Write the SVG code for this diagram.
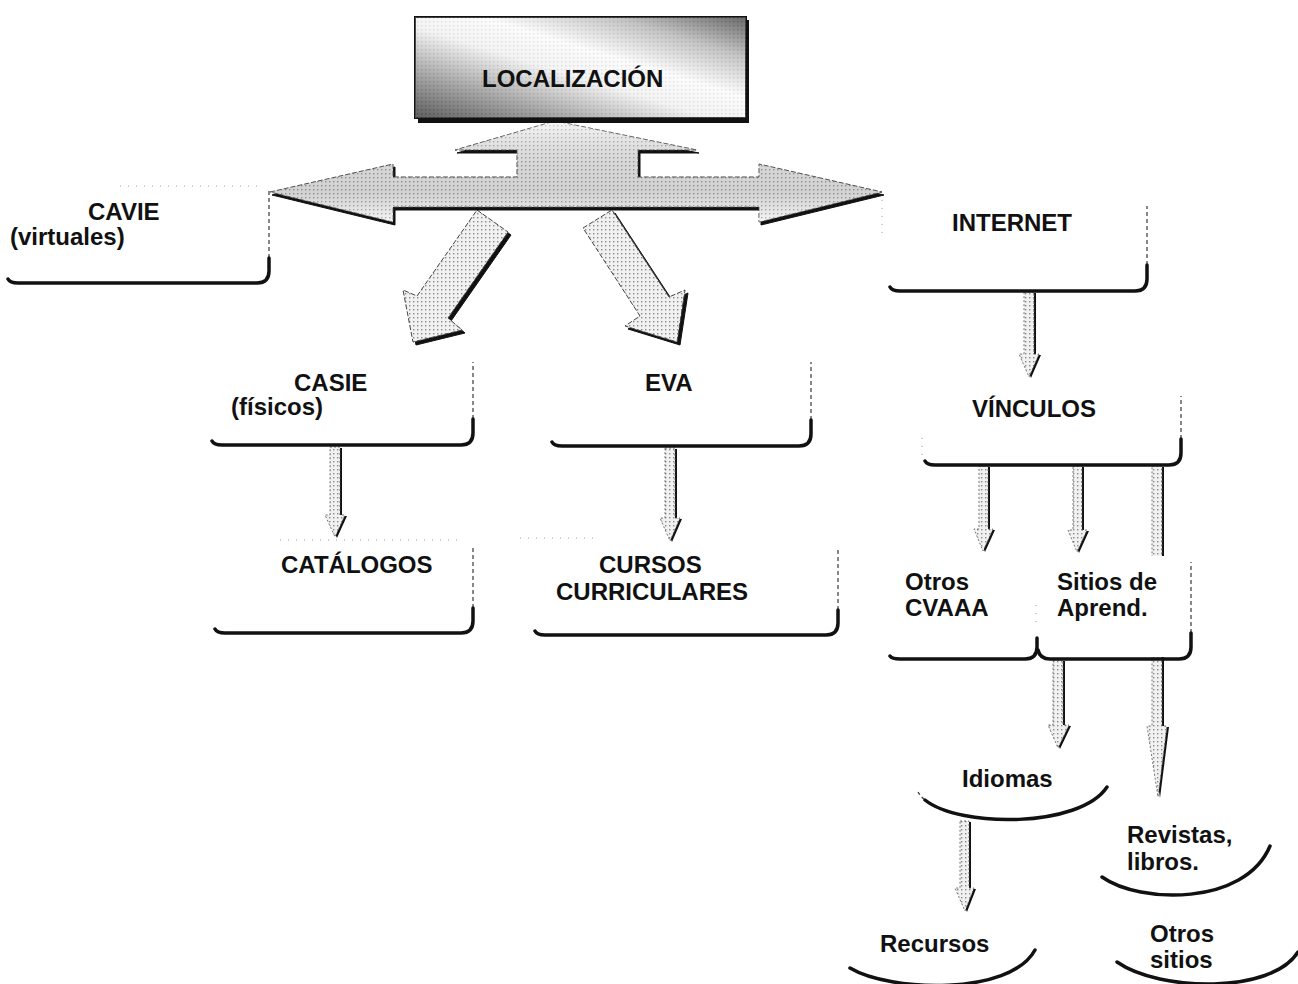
<svg xmlns="http://www.w3.org/2000/svg" width="1298" height="984" viewBox="0 0 1298 984">
  <defs>
    <style>
      .lbl { font-family: "Liberation Sans", Arial, sans-serif; font-weight: bold; font-size: 24px; fill: #111; }
      .edge { fill: none; stroke: #111; stroke-width: 3.5; stroke-linecap: round; stroke-linejoin: round; }
      .side { fill: none; stroke: #555; stroke-width: 1.4; stroke-dasharray: 4 3; }
      .faint { fill: none; stroke: #999; stroke-width: 1; stroke-dasharray: 1 7; }
      .curve { fill: none; stroke: #111; stroke-width: 3.5; stroke-linecap: round; }
      .curve-thin { fill: none; stroke: #333; stroke-width: 1.2; stroke-dasharray: 3 3; }
      .shadow { fill: #111; stroke: #111; stroke-width: 1; }
      .block { fill: url(#stipple); stroke: #444; stroke-width: 1; stroke-dasharray: 5 2; }
      .vshadow { fill: #111; }
      .vblock { fill: url(#stipple); stroke: #555; stroke-width: 0.8; stroke-dasharray: 2 2; }
    </style>
    <pattern id="stipple" width="4" height="4" patternUnits="userSpaceOnUse">
      <rect width="4" height="4" fill="#f1f1f1"/>
      <rect x="1" y="1" width="1.4" height="1.4" fill="#8a8a8a"/>
    </pattern>
    <linearGradient id="band" x1="0" y1="0" x2="0" y2="1">
      <stop offset="0" stop-color="#ffffff" stop-opacity="0.55"/>
      <stop offset="0.45" stop-color="#9a9a9a" stop-opacity="0.3"/>
      <stop offset="0.7" stop-color="#8a8a8a" stop-opacity="0.3"/>
      <stop offset="1" stop-color="#ffffff" stop-opacity="0.4"/>
    </linearGradient>
    <linearGradient id="topfill" x1="0" y1="1" x2="1" y2="0">
      <stop offset="0" stop-color="#2e2e2e"/>
      <stop offset="0.22" stop-color="#8c8c8c"/>
      <stop offset="0.45" stop-color="#f4f4f4"/>
      <stop offset="0.6" stop-color="#ffffff"/>
      <stop offset="0.8" stop-color="#b5b5b5"/>
      <stop offset="1" stop-color="#3c3c3c"/>
    </linearGradient>
  </defs>

  <rect width="1298" height="984" fill="#ffffff"/>

  <!-- connectors (drawn first so filled nodes can sit on top) -->
  <g id="connectors">
    <!-- diagonal block arrows -->
    <polygon class="shadow" transform="translate(3,3)" points="477,210 508,232 448,318 462,330 413,342 403,290 417,296"/>
    <polygon class="block" points="477,210 508,232 448,318 462,330 413,342 403,290 417,296"/>
    <polygon class="shadow" transform="translate(3,3)" points="583,228 612,210 669,297 685,290 677,342 625,326 640,316"/>
    <polygon class="block" points="583,228 612,210 669,297 685,290 677,342 625,326 640,316"/>

    <!-- double-headed arrow with upward branch -->
    <polygon class="shadow" transform="translate(2,3)" points="270,192 393,164 393,177 517,177 517,150 455,150 555,121 697,150 638,150 638,177 759,177 759,164 882,192 759,222 759,207 393,207 393,222"/>
    <polygon class="block" points="270,192 393,164 393,177 517,177 517,150 455,150 555,121 697,150 638,150 638,177 759,177 759,164 882,192 759,222 759,207 393,207 393,222"/>
    <polygon fill="url(#band)" points="270,192 393,164 393,177 517,177 517,150 455,150 555,121 697,150 638,150 638,177 759,177 759,164 882,192 759,222 759,207 393,207 393,222"/>

    <!-- vertical arrows -->
    <g id="arrow-casie-catalogos">
      <polygon class="vshadow" transform="translate(2,1)" points="330,447 340,447 340,515 345,515 335,537 325,515 330,515"/>
      <polygon class="vblock" points="330,447 340,447 340,515 345,515 335,537 325,515 330,515"/>
    </g>
    <g id="arrow-eva-cursos">
      <polygon class="vshadow" transform="translate(2,1)" points="665,448 675,448 675,518 680,518 670,541 660,518 665,518"/>
      <polygon class="vblock" points="665,448 675,448 675,518 680,518 670,541 660,518 665,518"/>
    </g>
    <g id="arrow-internet-vinculos">
      <polygon class="vshadow" transform="translate(2,1)" points="1024,292 1034,292 1034,354 1039,354 1029,377 1019,354 1024,354"/>
      <polygon class="vblock" points="1024,292 1034,292 1034,354 1039,354 1029,377 1019,354 1024,354"/>
    </g>
    <g id="arrow-vinculos-otros">
      <polygon class="vshadow" transform="translate(2,1)" points="979,466 988,466 988,529 993,529 983,551 974,529 979,529"/>
      <polygon class="vblock" points="979,466 988,466 988,529 993,529 983,551 974,529 979,529"/>
    </g>
    <g id="arrow-vinculos-sitios">
      <polygon class="vshadow" transform="translate(2,1)" points="1073,466 1082,466 1082,530 1087,530 1077,552 1068,530 1073,530"/>
      <polygon class="vblock" points="1073,466 1082,466 1082,530 1087,530 1077,552 1068,530 1073,530"/>
    </g>
    <g id="arrow-vinculos-revistas">
      <polygon class="vshadow" transform="translate(2,1)" points="1152,466 1162,466 1162,726 1167,726 1158,797 1147,726 1152,726"/>
      <polygon class="vblock" points="1152,466 1162,466 1162,726 1167,726 1158,797 1147,726 1152,726"/>
    </g>
    <g id="arrow-sitios-idiomas">
      <polygon class="vshadow" transform="translate(2,1)" points="1053,660 1063,660 1063,725 1069,725 1058,748 1048,725 1053,725"/>
      <polygon class="vblock" points="1053,660 1063,660 1063,725 1069,725 1058,748 1048,725 1053,725"/>
    </g>
    <g id="arrow-idiomas-recursos">
      <polygon class="vshadow" transform="translate(2,1)" points="960,821 969,821 969,888 974,888 965,911 955,888 960,888"/>
      <polygon class="vblock" points="960,821 969,821 969,888 974,888 965,911 955,888 960,888"/>
    </g>
  </g>

  <!-- top node -->
  <g id="node-localizacion">
    <rect x="418" y="20" width="331" height="103" fill="#111"/>
    <rect x="415" y="17" width="331" height="101" fill="url(#topfill)" stroke="#111" stroke-width="2"/>
    <rect x="415" y="17" width="331" height="101" fill="url(#stipple)" opacity="0.25"/>
    <text class="lbl" x="482" y="87">LOCALIZACIÓN</text>
  </g>

  <g id="node-cavie">
    <path class="faint" d="M 120,186 L 262,186"/>
    <path class="side" d="M 269,258 L 269,188"/>
    <path class="edge" d="M 8,279 Q 10,283 18,283 L 257,283 Q 269,283 269,271 L 269,258"/>
    <text class="lbl" x="88" y="220">CAVIE</text>
    <text class="lbl" x="10" y="245">(virtuales)</text>
  </g>

  <g id="node-casie">
    <path class="side" d="M 473,419 L 473,362"/>
    <path class="edge" d="M 212,441 Q 214,445 222,445 L 461,445 Q 473,445 473,433 L 473,419"/>
    <text class="lbl" x="294" y="391">CASIE</text>
    <text class="lbl" x="231" y="415">(físicos)</text>
  </g>

  <g id="node-eva">
    <path class="side" d="M 811,420 L 811,362"/>
    <path class="edge" d="M 552,442 Q 554,446 562,446 L 799,446 Q 811,446 811,434 L 811,420"/>
    <text class="lbl" x="645" y="391">EVA</text>
  </g>

  <g id="node-catalogos">
    <path class="faint" d="M 280,540 L 462,540"/>
    <path class="side" d="M 473,608 L 473,546"/>
    <path class="edge" d="M 215,629 Q 217,633 225,633 L 461,633 Q 473,633 473,621 L 473,608"/>
    <text class="lbl" x="281" y="573">CATÁLOGOS</text>
  </g>

  <g id="node-cursos">
    <path class="faint" d="M 520,538 L 600,538"/>
    <path class="side" d="M 838,610 L 838,548"/>
    <path class="edge" d="M 535,631 Q 537,635 545,635 L 826,635 Q 838,635 838,623 L 838,610"/>
    <text class="lbl" x="599" y="573">CURSOS</text>
    <text class="lbl" x="556" y="600">CURRICULARES</text>
  </g>

  <g id="node-internet">
    <path class="faint" d="M 882,200 L 882,236"/>
    <path class="side" d="M 1147,265 L 1147,206"/>
    <path class="edge" d="M 890,287 Q 892,291 900,291 L 1135,291 Q 1147,291 1147,279 L 1147,265"/>
    <text class="lbl" x="952" y="231">INTERNET</text>
  </g>

  <g id="node-vinculos">
    <path class="faint" d="M 922,438 L 922,458"/>
    <path class="side" d="M 1181,439 L 1181,396"/>
    <path class="edge" d="M 925,461 Q 927,465 935,465 L 1169,465 Q 1181,465 1181,453 L 1181,439"/>
    <text class="lbl" x="972" y="417">VÍNCULOS</text>
  </g>

  <g id="node-otros-cvaaa">
    <path class="faint" d="M 1036,605 L 1036,625"/>
    <path class="edge" d="M 890,656 Q 892,659 900,659 L 1025,659 Q 1037,659 1037,647 L 1037,638"/>
    <text class="lbl" x="905" y="590">Otros</text>
    <text class="lbl" x="905" y="616">CVAAA</text>
  </g>

  <g id="node-sitios">
    <rect x="1041" y="556" width="149" height="101" fill="#ffffff"/>
    <path class="side" d="M 1191,633 L 1191,562"/>
    <path class="edge" d="M 1038,650 Q 1040,659 1050,659 L 1179,659 Q 1191,659 1191,647 L 1191,633"/>
    <text class="lbl" x="1057" y="590">Sitios de</text>
    <text class="lbl" x="1057" y="616">Aprend.</text>
  </g>

  <g id="node-idiomas">
    <path class="curve-thin" d="M 918,792 Q 921,797 925,800"/>
    <path class="curve" d="M 925,800 C 960,828 1080,828 1107,787"/>
    <text class="lbl" x="962" y="787">Idiomas</text>
  </g>

  <g id="node-recursos">
    <path class="curve" d="M 850,968 C 890,992 1010,996 1035,950"/>
    <text class="lbl" x="880" y="952">Recursos</text>
  </g>

  <g id="node-revistas">
    <path class="curve" d="M 1102,877 C 1140,904 1245,906 1270,846"/>
    <text class="lbl" x="1127" y="843">Revistas,</text>
    <text class="lbl" x="1127" y="870">libros.</text>
  </g>

  <g id="node-otros-sitios">
    <path class="curve" d="M 1117,962 C 1160,992 1272,994 1298,952"/>
    <text class="lbl" x="1150" y="942">Otros</text>
    <text class="lbl" x="1150" y="968">sitios</text>
  </g>
</svg>
